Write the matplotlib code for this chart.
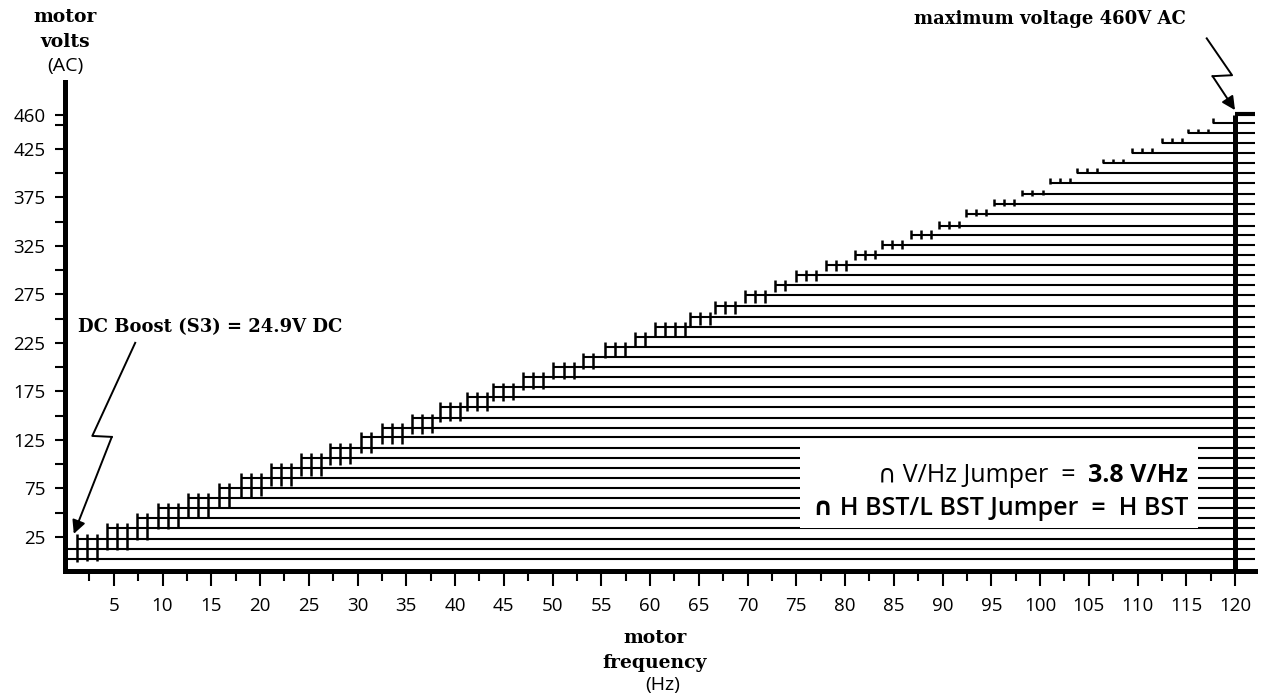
import numpy as np
import matplotlib.pyplot as plt
from matplotlib.patches import Rectangle

# ---------- values ----------
# horizontal steps: voltage level (V) and frequency where each step begins (Hz)
step_volts = [2, 12, 23, 34, 44, 55, 65, 75, 86, 96,
              106, 117, 128, 137, 147, 159, 169, 179, 190, 200,
              210, 221, 231, 241, 252, 263, 274, 285, 295, 305,
              316, 326, 336, 346, 358, 368, 378, 390, 400, 410,
              421, 431, 441, 452]
step_start = [0, 0, 1.2, 4.3, 7.4, 9.5, 12.6, 15.8, 18.0, 21.1,
              24.2, 27.2, 30.4, 32.5, 35.6, 38.5, 41.2, 43.9, 47.0, 50.1,
              53.1, 55.4, 58.5, 60.5, 64.1, 66.7, 69.7, 72.8, 75.0, 78.0,
              81.0, 83.8, 86.8, 89.6, 92.4, 95.3, 98.2, 101.0, 103.8, 106.5,
              109.4, 112.5, 115.2, 117.7]

x_major = [5, 10, 15, 20, 25, 30, 35, 40, 45, 50, 55, 60,
           65, 70, 75, 80, 85, 90, 95, 100, 105, 110, 115, 120]
x_minor = [2.5, 7.5, 12.5, 17.5, 22.5, 27.5, 32.5, 37.5, 42.5, 47.5, 52.5, 57.5,
           62.5, 67.5, 72.5, 77.5, 82.5, 87.5, 92.5, 97.5, 102.5, 107.5, 112.5, 117.5]
y_major = [25, 75, 125, 175, 225, 275, 325, 375, 425, 460]
y_minor = [50, 100, 150, 200, 250, 300, 350, 400, 450]

max_volts = 460
max_freq = 120

# zig-zag pointer paths (Hz, V)
dc_path = [(7.2, 225), (2.8, 129), (4.8, 128), (0.9, 28)]
max_path = [(117.1, 539), (119.7, 501), (117.7, 500), (120, 465)]

SERIF = 'DejaVu Serif'
SANS = ['Open Sans', 'DejaVu Sans']

# ---------- figure ----------
fig = plt.figure(figsize=(12.61, 6.99), dpi=100)
ax = fig.add_axes([65 / 1261, 128 / 699, 1189.5 / 1261, 489 / 699])
ax.set_xlim(0, 122)
ax.set_ylim(-10.3, 494)

# horizontal step lines
ax.hlines(step_volts, step_start, 122, color='k', lw=1.5, zorder=2)

# little vertical marks along the staircase
mark_f, mark_lo, mark_hi = [], [], []
for k in range(2, len(step_volts)):
    f0 = step_start[k]
    f1 = step_start[k + 1] if k + 1 < len(step_start) else 119.0
    f = f0
    while f < f1 - 0.4:
        drop = max(24 - 0.23 * f, 0)
        mark_f.append(f)
        mark_lo.append(step_volts[k] - drop)
        mark_hi.append(step_volts[k] + 5)
        f += 1.03
ax.vlines(mark_f, mark_lo, mark_hi, color='k', lw=1.8, zorder=2)

# thick limit line at 120 Hz with a cap at 460 V
ax.plot([max_freq, max_freq], [-10.3, max_volts], color='k', lw=3.6,
        solid_capstyle='butt', zorder=4)
ax.plot([max_freq, 122], [max_volts + 1, max_volts + 1], color='k', lw=3.0,
        solid_capstyle='butt', clip_on=False, zorder=4)

# white panel for the jumper notes
ax.add_patch(Rectangle((75.4, 34), 116.2 - 75.4, 122.7 - 34,
                       facecolor='white', edgecolor='none', zorder=3))

# ---------- axes styling ----------
for s in ['top', 'right']:
    ax.spines[s].set_visible(False)
ax.spines['left'].set_linewidth(3.6)
ax.spines['bottom'].set_linewidth(3.6)

ax.set_xticks(x_major)
ax.set_xticks(x_minor, minor=True)
ax.set_yticks(y_major)
ax.set_yticks(y_minor, minor=True)
ax.tick_params(axis='x', which='major', direction='out', length=11, width=1.5,
               pad=8, labelsize=13.5)
ax.tick_params(axis='x', which='minor', direction='out', length=7, width=1.5)
ax.tick_params(axis='y', which='both', direction='out', length=7, width=1.5,
               pad=7, labelsize=13.5)
for lab in ax.get_xticklabels() + ax.get_yticklabels():
    lab.set_family(SANS)

# ---------- texts ----------
ax.text(0, 561, 'motor', family=SERIF, weight='bold', fontsize=13.5,
        ha='center', va='center')
ax.text(0, 535, 'volts', family=SERIF, weight='bold', fontsize=13.5,
        ha='center', va='center')
ax.text(0, 511, '(AC)', family=SANS, fontsize=14, ha='center', va='center')

ax.text(60.5, -79, 'motor', family=SERIF, weight='bold', fontsize=13.5,
        ha='center', va='center')
ax.text(60.5, -105, 'frequency', family=SERIF, weight='bold', fontsize=13.5,
        ha='center', va='center')
ax.text(61.3, -128, '(Hz)', family=SANS, fontsize=14, ha='center', va='center')

ax.text(1.3, 241, 'DC Boost (S3) = 24.9V DC', family=SERIF, weight='bold',
        fontsize=13, ha='left', va='center')
ax.text(115.0, 559, 'maximum voltage 460V AC', family=SERIF, weight='bold',
        fontsize=13, ha='right', va='center')

# jumper notes, right aligned
t1 = ax.text(115.2, 88.7, '3.8 V/Hz', family=SANS, weight='bold',
             fontsize=18, ha='right', va='center', zorder=5)
fig.canvas.draw()
bb = t1.get_window_extent()
x_left = ax.transData.inverted().transform((bb.x0, bb.y0))[0]
ax.text(x_left, 88.7, '\u2229 V/Hz Jumper  =  ', family=SANS, fontsize=18,
        ha='right', va='center', zorder=5)
ax.text(115.2, 54.6, '\u2229 H BST/L BST Jumper  =  H BST', family=SANS,
        weight='semibold', fontsize=18, ha='right', va='center', zorder=5)

# zig-zag pointers
for path in [dc_path, max_path]:
    xs = [p[0] for p in path]
    ys = [p[1] for p in path]
    ax.plot(xs[:-1], ys[:-1], color='k', lw=1.4, clip_on=False)
    ax.annotate('', xy=path[-1], xytext=path[-2],
                arrowprops=dict(arrowstyle='-|>', color='k', lw=1.4,
                                mutation_scale=20, shrinkA=0, shrinkB=0),
                annotation_clip=False)

fig.savefig('out.png', dpi=100)
